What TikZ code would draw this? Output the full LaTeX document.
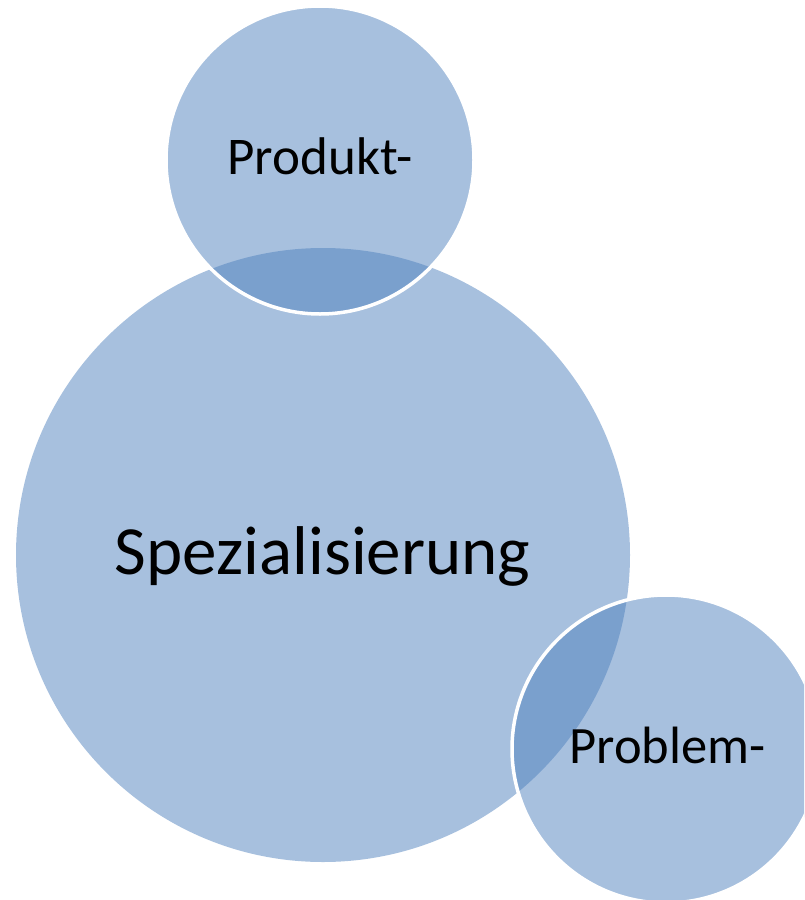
\documentclass[tikz,border=0pt]{standalone}
\usepackage{fontspec}
\setmainfont{Carlito}
\definecolor{bubblue}{HTML}{4F81BD}
\begin{document}
\begin{tikzpicture}[x=1pt,y=-1pt,
	bubble/.style={circle,inner sep=0pt,outer sep=0pt,fill=bubblue,fill opacity=0.5},
	rim/.style={draw=white,line width=3.5pt},
	word/.style={anchor=base,inner sep=0pt,text=black}]
	\clip (0,0) rectangle (804,900);
	\def\rbig{307}
	\def\rsmall{154}
	\node[bubble,minimum size=2*\rbig pt] (spez) at (323,555) {};
	\foreach\n/\x/\y in {prod/320/160,prob/666/749}
	{\node[bubble,rim,minimum size=2*\rsmall pt] (\n) at (\x,\y) {};}
	\node[word,font=\fontsize{69}{80}\selectfont] (tspez) at (322.5,574) {Spezialisierung};
	\node[word,font=\fontsize{53}{62}\selectfont] (tprod) at (320,174) {Produkt-};
	\node[word,font=\fontsize{52.5}{62}\selectfont] (tprob) at (667.5,763) {Problem-};
\end{tikzpicture}
\end{document}
